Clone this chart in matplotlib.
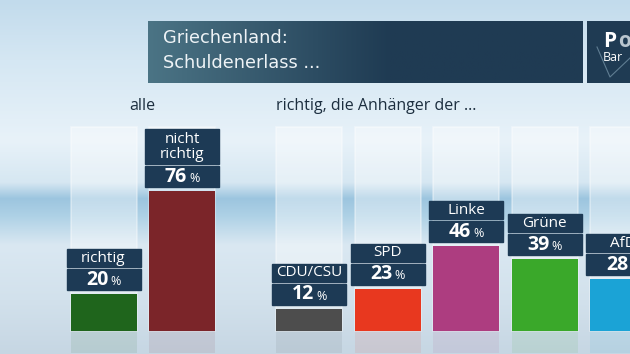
import numpy as np
import matplotlib.pyplot as plt
import matplotlib.colors as mcolors
from matplotlib.patches import Rectangle

# data
alle_labels = ['richtig', 'nicht\nrichtig']
alle_values = [20, 76]
alle_colors = ['#1f651c', '#7b2529']

party_labels = ['CDU/CSU', 'SPD', 'Linke', 'Grüne', 'AfD']
party_values = [12, 23, 46, 39, 28]
party_colors = ['#4d4d4d', '#e8381f', '#ad3d80', '#3aa82a', '#1ba3d6']

title_lines = ['Griechenland:', 'Schuldenerlass ...']

plt.rcParams['font.family'] = ['Open Sans', 'DejaVu Sans']

W, H = 630, 354
fig = plt.figure(figsize=(W / 100, H / 100), dpi=100)

# background gradient (vertical profile)
bg = fig.add_axes([0, 0, 1, 1])
stops = [(0, '#c2dbec'), (60, '#d5e7f3'), (140, '#e8f2f9'), (182, '#d6e7f2'),
         (198, '#9cc5df'), (214, '#acd0e5'), (245, '#dae8f2'), (300, '#d2e1ec'),
         (354, '#c6d6e3')]
ys = np.arange(H)
rgb = np.zeros((H, 3))
for c in range(3):
    rgb[:, c] = np.interp(ys, [s[0] for s in stops],
                          [mcolors.to_rgb(s[1])[c] for s in stops])
img = np.repeat(rgb[:, None, :], 2, axis=1)
bg.imshow(img, aspect='auto', extent=[0, 1, 0, 1], interpolation='bilinear')
bg.set_xlim(0, 1)
bg.set_ylim(0, 1)
bg.axis('off')

# main axes, 78.5 px per slot, 1.84 px per percent, baseline at y=331px
pxx, pxy = 78.5, 1.84
ax = fig.add_axes([0, 0, 1, 1])
ax.set_xlim(-103.5 / pxx, (W - 103.5) / pxx)
ax.set_ylim(-(H - 331) / pxy, 331 / pxy)
ax.axis('off')
ax.patch.set_alpha(0)

pos = list(range(len(alle_values))) + [2.62 + i for i in range(len(party_values))]
labels = alle_labels + party_labels
values = alle_values + party_values
colors = alle_colors + party_colors
bw = 66 / pxx

# ghost bars
ax.bar(pos, [111] * len(pos), width=bw, color='white', alpha=0.38,
       edgecolor='white', linewidth=1.2, zorder=1)
# reflections
ax.bar(pos, [-12] * len(pos), width=bw, color=colors, alpha=0.09, zorder=1)
# real bars
ax.bar(pos, values, width=bw, color=colors, zorder=2)

navy = '#1d3a55'
boxw = 74 / pxx
for x, lab, v in zip(pos, labels, values):
    y0 = v + 4 / pxy
    vh = 21 / pxy
    ax.add_patch(Rectangle((x - boxw / 2, y0), boxw, vh, color=navy, zorder=3))
    ax.text(x + 5 / pxx, y0 + vh / 2, str(v), ha='right', va='center',
            color='white', fontsize=14, fontweight='bold', zorder=4)
    ax.text(x + 7 / pxx, y0 + vh / 2 - 0.9, '%', ha='left', va='center',
            color='white', fontsize=9, zorder=4)
    nlines = lab.count('\n') + 1
    nh = (18 + 17 * (nlines - 1)) / pxy
    ny = y0 + vh + 2 / pxy
    ax.add_patch(Rectangle((x - boxw / 2, ny), boxw, nh, color=navy, zorder=3))
    ax.text(x, ny + nh / 2, lab, ha='center', va='center', color='white',
            fontsize=11, linespacing=1.0, zorder=4, clip_on=True)

# group headings
ax.text(0.5, (331 - 106) / pxy, 'alle', ha='center', va='center',
        color='#1c2e3f', fontsize=11.5)
ax.text(pos[2] - bw / 2, (331 - 106) / pxy, 'richtig, die Anhänger der ...',
        ha='left', va='center', color='#1c2e3f', fontsize=11.5)

# title box with horizontal gradient
tb = fig.add_axes([148 / W, 1 - 83 / H, (583 - 148) / W, (83 - 21) / H])
grad = np.linspace(0, 1, 256)
c0 = np.array(mcolors.to_rgb('#4b7485'))
c1 = np.array(mcolors.to_rgb('#1f3b53'))
gimg = c0[None, :] + (c1 - c0)[None, :] * np.clip(grad * 1.8, 0, 1)[:, None]
tb.imshow(gimg[None, :, :], aspect='auto', extent=[0, 1, 0, 1])
tb.set_xlim(0, 1)
tb.set_ylim(0, 1)
tb.axis('off')
tb.text(15 / 435, 0.73, title_lines[0], color='#eef3f6', fontsize=12.8,
        va='center', ha='left', family='DejaVu Sans')
tb.text(15 / 435, 0.32, title_lines[1], color='#eef3f6', fontsize=12.8,
        va='center', ha='left', family='DejaVu Sans')

# logo box
lb = fig.add_axes([587 / W, 1 - 83 / H, (W - 587) / W, (83 - 21) / H])
lb.set_facecolor('#1f3b53')
lb.set_xticks([])
lb.set_yticks([])
for s in lb.spines.values():
    s.set_visible(False)
lb.set_xlim(587, W)
lb.set_ylim(83, 21)
lb.plot([597, 610, 630], [47, 77, 58], color='#5f7d92', lw=0.8)
lb.text(603, 47, 'P', color='white', fontsize=15, fontweight='bold',
        ha='left', va='baseline')
lb.text(618, 47, 'o', color='#b9c6cf', fontsize=15, fontweight='bold',
        ha='left', va='baseline', clip_on=True)
lb.text(603, 61, 'Bar', color='white', fontsize=9, ha='left', va='baseline')

fig.savefig('out.png', dpi=100)
